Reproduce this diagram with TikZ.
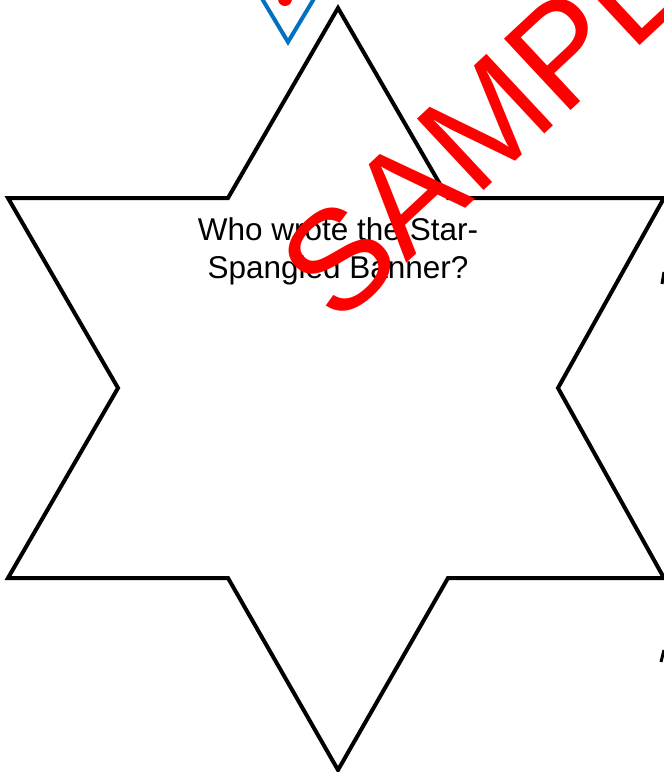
\documentclass[tikz,border=0pt]{standalone}
\usepackage{fontspec}
\setmainfont{Liberation Sans}
\definecolor{vblue}{RGB}{0,112,192}
\definecolor{wred}{RGB}{255,0,0}
\begin{document}
\begin{tikzpicture}[x=1pt,y=-1pt,
  starline/.style={draw=black,line width=4pt,line join=miter},
  bluev/.style={draw=vblue,line width=4pt,line join=miter},
  qtext/.style={align=center,font=\fontsize{31.5}{38}\selectfont,inner sep=0pt},
  wmark/.style={text=wred,font=\fontsize{142}{142}\selectfont,inner sep=0pt,rotate=43,anchor=base west}]
\useasboundingbox (0,0) rectangle (664,772);
\begin{scope}
\clip (0,0) rectangle (664,772);
% blue V at top
\draw[bluev] (258,-8) -- (288,42) -- (318,-8);
\fill[wred] (285,-1) ellipse (7 and 7);
% star
\draw[starline] (338,8) -- (448,198) -- (664,198) -- (558,388) -- (664,578)
  -- (448,578) -- (338,770) -- (228,578) -- (8,578) -- (118,388) -- (8,198)
  -- (228,198) -- cycle;
% small marks at right edge
\draw[black,line width=3pt] (664,272) -- (662,284);
\draw[black,line width=3pt] (664,650) -- (661,662);
\end{scope}
\node[qtext] (q) at (338,251) {Who wrote the Star-\\Spangled Banner?};
\begin{scope}
\clip (0,0) rectangle (664,772);
\node[wmark] (w) at (337,328) {SAMPLE};
\end{scope}
\end{tikzpicture}
\end{document}
